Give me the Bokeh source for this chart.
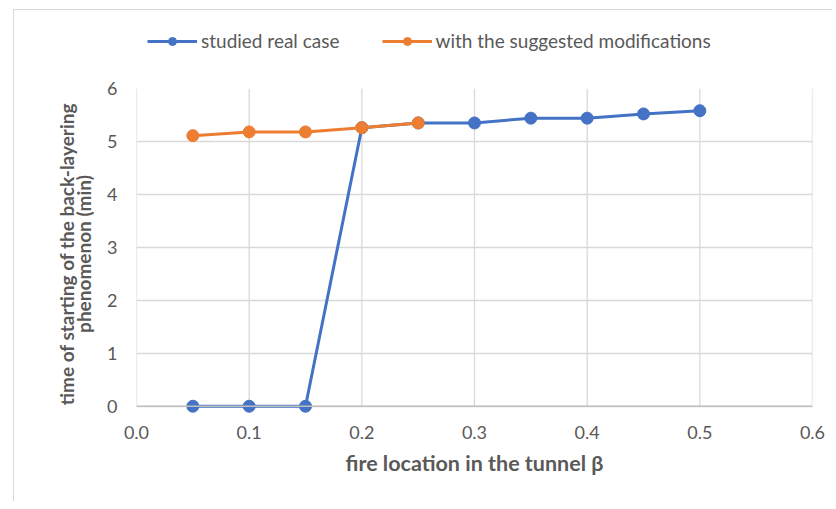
from bokeh.plotting import figure
from bokeh.layouts import column
from bokeh.models import (Legend, LegendItem, FixedTicker, Range1d,
                          NumeralTickFormatter, LinearAxis, Span)
from bokeh.embed import file_html
from bokeh.resources import INLINE

# data
beta_real = [0.05, 0.10, 0.15, 0.20, 0.25, 0.30, 0.35, 0.40, 0.45, 0.50]
time_real = [0.0, 0.0, 0.0, 5.26, 5.35, 5.35, 5.44, 5.44, 5.52, 5.58]
beta_mod = [0.05, 0.10, 0.15, 0.20, 0.25]
time_mod = [5.11, 5.18, 5.18, 5.26, 5.35]
x_ticks = [0.0, 0.1, 0.2, 0.3, 0.4, 0.5, 0.6]
y_ticks = [0, 1, 2, 3, 4, 5, 6]
series_names = ["studied real case", "with the suggested modifications"]
x_title = "fire location in the tunnel β"
y_title_1 = "time of starting of the back-layering"
y_title_2 = "phenomenon (min)"

BLUE = "#4472C4"
ORANGE = "#ED7D31"
FONT = "Lato"
TXT = "#595959"
GRID = "#d9d9d9"

# ---------------- legend strip (top) ----------------
# the strip's renderers hold the series but its ranges keep them out of view;
# only the legend is visible here
leg = figure(width=818, height=70, output_backend="svg", toolbar_location=None,
             x_range=Range1d(10, 11), y_range=Range1d(10, 11),
             x_axis_type=None, y_axis_type=None, min_border=0)
leg.outline_line_color = None
leg.grid.visible = False
ll1 = leg.line(beta_real, time_real, line_color=BLUE, line_width=3)
ls1 = leg.scatter(beta_real, time_real, size=12, fill_color=BLUE, line_color=BLUE)
ll2 = leg.line(beta_mod, time_mod, line_color=ORANGE, line_width=3)
ls2 = leg.scatter(beta_mod, time_mod, size=12, fill_color=ORANGE, line_color=ORANGE)
legend = Legend(items=[LegendItem(label=series_names[0], renderers=[ll1, ls1]),
                       LegendItem(label=series_names[1], renderers=[ll2, ls2])],
                orientation="horizontal", location=(11, 28),
                label_text_font=FONT, label_text_font_size="19px",
                label_text_color=TXT, glyph_width=50, glyph_height=20,
                label_standoff=4, spacing=42, border_line_color=None,
                background_fill_alpha=0, padding=4, margin=0)
leg.add_layout(legend, "center")

# ---------------- main chart ----------------
p = figure(width=818, height=421, output_backend="svg", toolbar_location=None,
           x_range=Range1d(0, 0.6), y_range=Range1d(-0.25, 6),
           min_border_left=122, min_border_right=20, min_border_top=8,
           min_border_bottom=82)
p.outline_line_color = None
p.background_fill_color = "white"
p.border_fill_color = "white"

extra = LinearAxis(axis_label=y_title_1, ticker=FixedTicker(ticks=[]),
                   axis_line_color=None, major_label_text_font_size="0px",
                   major_label_standoff=0)
p.add_layout(extra, "left")

for ax in (p.xaxis[0], p.yaxis[0], extra):
    ax.major_tick_line_color = None
    ax.minor_tick_line_color = None
    ax.major_tick_out = 0
    ax.major_tick_in = 0
    ax.minor_tick_out = 0
    ax.major_label_text_font = FONT
    ax.major_label_text_color = TXT
    ax.axis_label_text_font = FONT
    ax.axis_label_text_font_size = "19px"
    ax.axis_label_text_font_style = "bold"
    ax.axis_label_text_color = TXT
p.xaxis[0].axis_label_text_font_size = "21.5px"
p.xaxis[0].major_label_text_font_size = "18px"
p.yaxis[0].major_label_text_font_size = "18px"

p.xaxis.ticker = FixedTicker(ticks=x_ticks)
p.yaxis[0].ticker = FixedTicker(ticks=y_ticks)
p.xaxis.formatter = NumeralTickFormatter(format="0.0")
p.xaxis.axis_line_color = None
p.yaxis[0].axis_line_color = None
p.xaxis.major_label_standoff = 6
p.yaxis[0].major_label_standoff = 19
p.xaxis.axis_label = x_title
p.yaxis[0].axis_label = y_title_2
p.xaxis.axis_label_standoff = 8
p.yaxis[0].axis_label_standoff = 9
extra.axis_label_standoff = -8

p.xgrid.visible = False
p.ygrid.ticker = FixedTicker(ticks=y_ticks)
p.ygrid.grid_line_color = GRID
p.ygrid.grid_line_width = 1.3

# vertical gridlines from 0 to 6 at each x tick
p.segment(x0=x_ticks, y0=[y_ticks[0]] * len(x_ticks), x1=x_ticks,
          y1=[y_ticks[-1]] * len(x_ticks), line_color=GRID, line_width=1.3)
# x axis line at y = 0
p.add_layout(Span(location=0, dimension="width", line_color="#bfbfbf", line_width=1.3))

p.line(beta_real, time_real, line_color=BLUE, line_width=3)
p.scatter(beta_real, time_real, size=12, fill_color=BLUE, line_color=BLUE)
p.line(beta_mod, time_mod, line_color=ORANGE, line_width=3)
p.scatter(beta_mod, time_mod, size=12, fill_color=ORANGE, line_color=ORANGE)

layout = column(leg, p, styles={"margin-left": "13px", "margin-top": "9px",
                                "border-left": "1px solid #d9d9d9",
                                "border-top": "1px solid #d9d9d9"})

open("out.html", "w").write(file_html(layout, INLINE))
